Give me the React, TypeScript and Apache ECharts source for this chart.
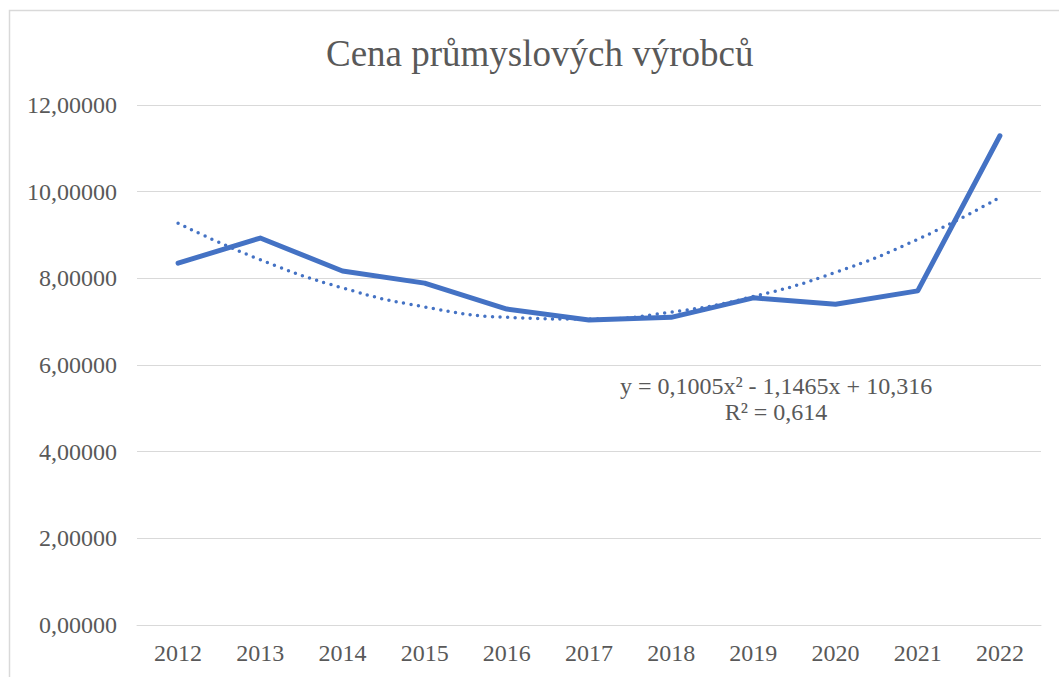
import React, { useEffect, useRef } from "react";
import * as echarts from "echarts";

const years = ["2012", "2013", "2014", "2015", "2016", "2017", "2018", "2019", "2020", "2021", "2022"];
const prices = [8.35, 8.93, 8.17, 7.89, 7.29, 7.04, 7.10, 7.55, 7.40, 7.71, 11.29];
const trend = [9.27, 8.43, 7.78, 7.34, 7.10, 7.06, 7.22, 7.58, 8.14, 8.90, 9.87];
const titleText = "Cena průmyslových výrobců";
const trendEq = "y = 0,1005x² - 1,1465x + 10,316";
const trendR2 = "R² = 0,614";

const FONT = "'Liberation Serif', 'Times New Roman', serif";
const BLUE = "#4472C4";
const GREY = "#595959";

export default function App() {
  const ref = useRef<HTMLDivElement>(null);
  useEffect(() => {
    if (!ref.current) return;
    const chart = echarts.init(ref.current, null, { renderer: "svg" });
    chart.setOption({
      animation: false,
      backgroundColor: "#ffffff",
      title: {
        text: titleText,
        left: 321,
        top: 30,
        textStyle: { fontFamily: FONT, fontSize: 37, fontWeight: "normal", color: GREY },
      },
      grid: { left: 137, right: 18, top: 105, bottom: 52, containLabel: false },
      xAxis: {
        type: "category",
        data: years,
        boundaryGap: true,
        axisLine: { show: true, lineStyle: { color: "#d9d9d9", width: 1 } },
        axisTick: { show: false },
        axisLabel: { fontFamily: FONT, fontSize: 24, color: GREY, margin: 16 },
      },
      yAxis: {
        type: "value",
        min: 0,
        max: 12,
        interval: 2,
        axisLine: { show: false },
        axisTick: { show: false },
        splitLine: { lineStyle: { color: "#d9d9d9", width: 1 } },
        axisLabel: {
          fontFamily: FONT,
          fontSize: 24,
          color: GREY,
          margin: 20,
          formatter: (v: number) => v.toFixed(5).replace(".", ","),
        },
      },
      series: [
        {
          type: "line",
          data: prices,
          showSymbol: false,
          lineStyle: { color: BLUE, width: 5, cap: "round", join: "round" },
          itemStyle: { color: BLUE },
          z: 3,
        },
        {
          type: "line",
          data: trend,
          smooth: true,
          showSymbol: false,
          lineStyle: { color: BLUE, width: 3.5, type: [0, 7.5], cap: "round" },
          itemStyle: { color: BLUE },
          z: 2,
        },
      ],
      graphic: [
        {
          type: "rect",
          shape: { x: 9.5, y: 10.5, width: 1100, height: 720 },
          style: { fill: "none", stroke: "#d9d9d9", lineWidth: 1.5 },
          silent: true,
        },
        {
          type: "text",
          x: 776,
          y: 386,
          style: {
            text: trendEq,
            fontFamily: FONT,
            fontSize: 24,
            fill: GREY,
            align: "center",
            verticalAlign: "middle",
          },
        },
        {
          type: "text",
          x: 776,
          y: 412,
          style: {
            text: trendR2,
            fontFamily: FONT,
            fontSize: 24,
            fill: GREY,
            align: "center",
            verticalAlign: "middle",
          },
        },
      ],
    });
    return () => chart.dispose();
  }, []);
  return (
    <div
      ref={ref}
      style={{ position: "fixed", left: 0, top: 0, width: 1059, height: 677 }}
    />
  );
}
